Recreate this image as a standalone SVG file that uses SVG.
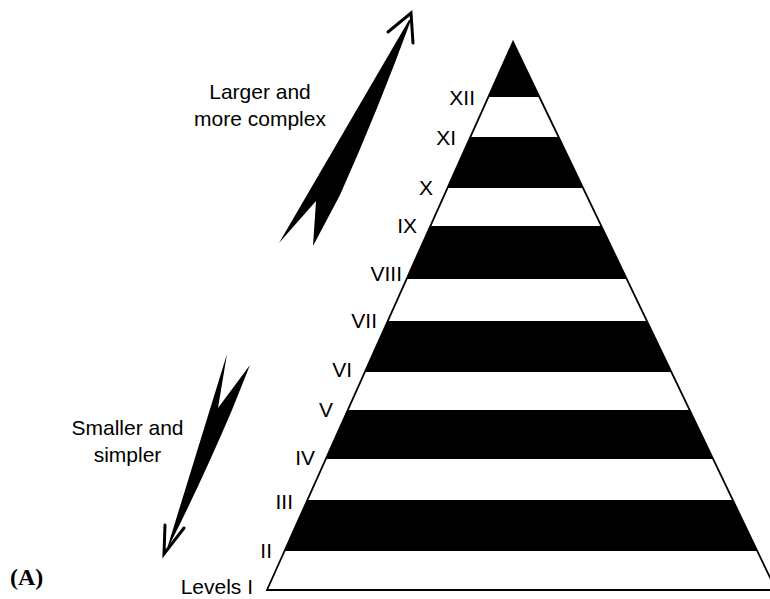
<svg xmlns="http://www.w3.org/2000/svg" width="770" height="599" viewBox="0 0 770 599">
  <style>
    .lbl { font-family: "Liberation Sans", Arial, sans-serif; font-size: 21px; fill: #000; }
    .num { font-family: "Liberation Sans", Arial, sans-serif; font-size: 21px; fill: #000; text-anchor: end; }
    .mid { text-anchor: middle; }
    .panel { font-family: "Liberation Serif", "Times New Roman", serif; font-size: 24px; font-weight: bold; fill: #000; }
    .band { fill: #000; }
    .barb { fill: none; stroke: #000; stroke-width: 3; stroke-linecap: round; stroke-linejoin: miter; }
  </style>
  <defs>
    <clipPath id="tri">
      <polygon points="513,42 267,590 776,590"/>
    </clipPath>
  </defs>
  <rect width="770" height="599" fill="#fff"/>

  <g id="pyramid">
    <g clip-path="url(#tri)">
      <rect class="band" x="250" y="30" width="540" height="67"/>
      <rect class="band" x="250" y="137" width="540" height="51"/>
      <rect class="band" x="250" y="226" width="540" height="53"/>
      <rect class="band" x="250" y="321" width="540" height="51"/>
      <rect class="band" x="250" y="410" width="540" height="49"/>
      <rect class="band" x="250" y="500" width="540" height="51"/>
    </g>
    <polygon points="513,42 267,590 776,590" fill="none" stroke="#000" stroke-width="1.8" stroke-linejoin="miter"/>
  </g>

  <g id="level-labels">
    <text class="num" x="475" y="105">XII</text>
    <text class="num" x="456" y="145">XI</text>
    <text class="num" x="433" y="195">X</text>
    <text class="num" x="417" y="233">IX</text>
    <text class="num" x="402" y="281">VIII</text>
    <text class="num" x="377" y="328">VII</text>
    <text class="num" x="352" y="377">VI</text>
    <text class="num" x="333" y="417">V</text>
    <text class="num" x="315" y="465">IV</text>
    <text class="num" x="293" y="509">III</text>
    <text class="num" x="272" y="558">II</text>
    <text class="num" x="253" y="594">Levels I</text>
  </g>

  <g id="connectors">
    <g id="arrow-up">
      <path d="M409,20 L279,243 L316,201 L313,246 L340,195 Q378,110 411,20 Z" fill="#000"/>
      <polyline class="barb" points="388,32 411,13 413,43"/>
    </g>
    <g id="arrow-down">
      <path d="M227,354 L218,408 L250,365 L232,410 Q200,485 166,552 Z" fill="#000"/>
      <polyline class="barb" points="165,525 164,554 184,528"/>
    </g>
  </g>

  <g id="label-larger">
    <text class="lbl mid" x="260" y="99">Larger and</text>
    <text class="lbl mid" x="260" y="126">more complex</text>
  </g>
  <g id="label-smaller">
    <text class="lbl mid" x="127.5" y="435">Smaller and</text>
    <text class="lbl mid" x="127.5" y="462">simpler</text>
  </g>
  <g id="panel-label">
    <text class="panel" x="10" y="585">(A)</text>
  </g>
</svg>
